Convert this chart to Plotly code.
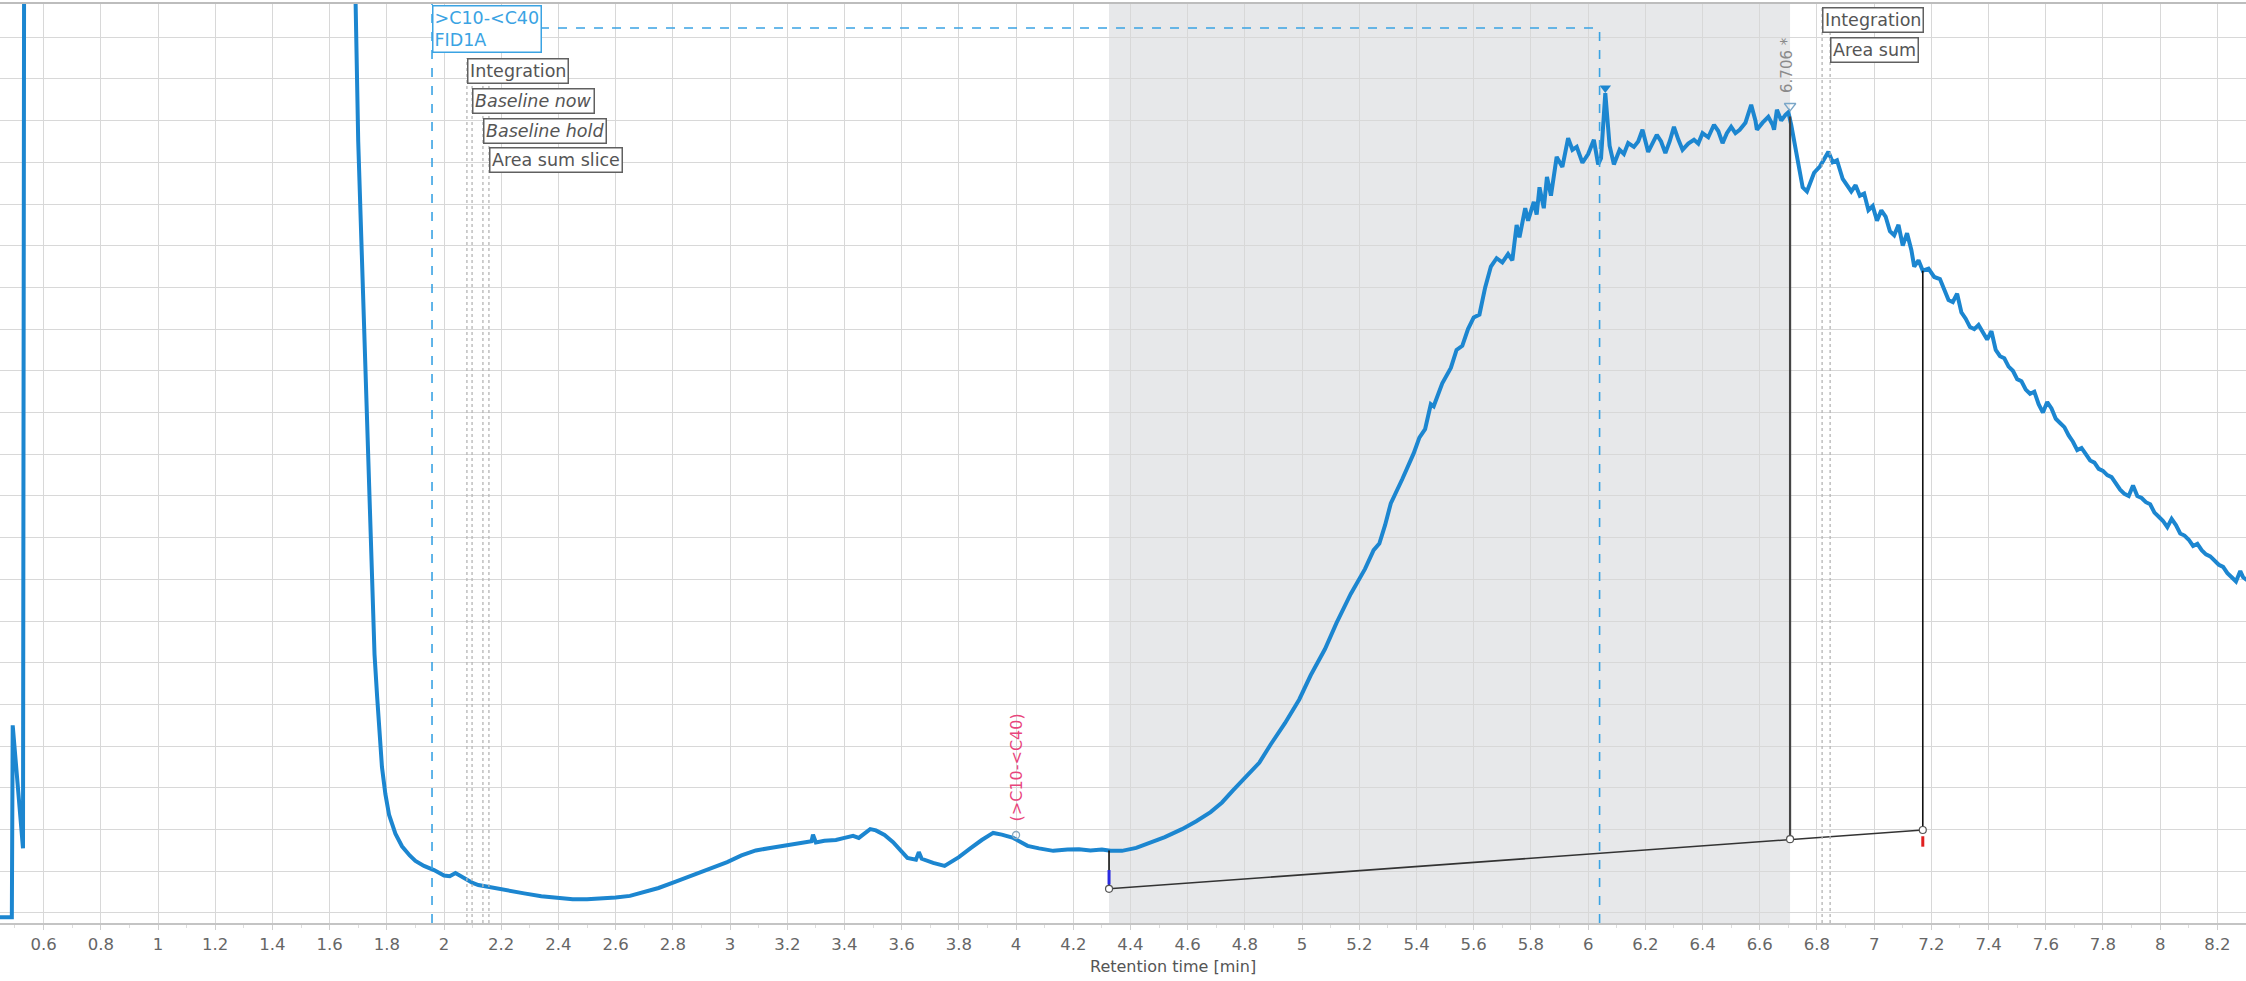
import plotly.graph_objects as go

# ---------------- data ----------------
RT_HEAD = [0.4476, 0.489, 0.492, 0.528, 0.535, 1.0, 1.68, 1.689, 1.70, 1.706, 1.715, 1.724, 1.738, 1.748,
           1.757, 1.766, 1.776, 1.783, 1.795, 1.808, 1.83, 1.853, 1.88, 1.90, 1.93, 1.965, 2.00, 2.02,
           2.04, 2.055, 2.07, 2.10, 2.12, 2.15, 2.18, 2.22, 2.28, 2.34, 2.40, 2.45, 2.50, 2.56, 2.60,
           2.65, 2.70, 2.75, 2.81, 2.87, 2.93, 2.99, 3.04, 3.09, 3.14, 3.18, 3.23, 3.27, 3.285, 3.29,
           3.30, 3.33, 3.37, 3.40, 3.43, 3.45, 3.47, 3.49, 3.51, 3.54, 3.57, 3.60, 3.62, 3.65, 3.66,
           3.67, 3.68, 3.71, 3.75, 3.78, 3.80, 3.84, 3.88, 3.92, 3.95, 3.99, 4.02, 4.04, 4.08, 4.13,
           4.18, 4.22, 4.26, 4.30, 4.33, 4.37, 4.42, 4.47, 4.52, 4.58, 4.63, 4.68, 4.72, 4.76, 4.80,
           4.85, 4.89, 4.94, 4.99, 5.03, 5.08, 5.12, 5.17, 5.22, 5.25, 5.27, 5.29, 5.31, 5.35, 5.39,
           5.41, 5.43, 5.45, 5.46, 5.49, 5.52, 5.54, 5.56, 5.58, 5.60, 5.62, 5.64, 5.66, 5.68, 5.70]
SIG_HEAD = [-0.1, -0.1, 4.5, 1.55, 40.0, 60.0, 40.0, 22.5, 18.5, 17.2, 15.0, 12.7, 9.7, 7.5,
            6.2, 5.2, 4.0, 3.5, 2.85, 2.35, 1.9, 1.6, 1.38, 1.25, 1.13, 1.03, 0.9, 0.88,
            0.96, 0.9, 0.82, 0.72, 0.67, 0.63, 0.58, 0.53, 0.47, 0.40, 0.35, 0.33, 0.33, 0.34, 0.37,
            0.41, 0.50, 0.60, 0.75, 0.91, 1.06, 1.22, 1.38, 1.50, 1.56, 1.61, 1.66, 1.70, 1.72, 1.88,
            1.69, 1.73, 1.75, 1.80, 1.85, 1.80, 1.92, 2.01, 1.98, 1.87, 1.70, 1.48, 1.32, 1.28, 1.46,
            1.30, 1.27, 1.20, 1.13, 1.25, 1.34, 1.55, 1.75, 1.92, 1.88, 1.80, 1.68, 1.61, 1.55, 1.49,
            1.52, 1.53, 1.50, 1.52, 1.49, 1.49, 1.56, 1.68, 1.82, 2.01, 2.20, 2.42, 2.65, 2.95, 3.25,
            3.60, 4.04, 4.55, 5.12, 5.70, 6.33, 6.95, 7.65, 8.25, 8.70, 8.86, 9.30, 9.82, 10.4, 11.02,
            11.4, 11.6, 12.2, 12.15, 12.7, 13.07, 13.5, 13.6, 14.0, 14.28, 14.35, 15.0, 15.5, 15.7, 15.6]

RT_TOP = [5.72, 5.735, 5.75, 5.76, 5.78, 5.79, 5.81, 5.82, 5.83, 5.845, 5.856, 5.87, 5.89, 5.91, 5.93,
          5.945, 5.96, 5.98, 6.00, 6.02, 6.035, 6.045, 6.06, 6.075, 6.09, 6.11, 6.125, 6.14, 6.16,
          6.175, 6.19, 6.21, 6.225, 6.24, 6.255, 6.27, 6.285, 6.30, 6.315, 6.33, 6.35, 6.37, 6.385,
          6.40, 6.42, 6.44, 6.455, 6.47, 6.485, 6.50, 6.515, 6.53, 6.55, 6.57, 6.585, 6.59, 6.61,
          6.63, 6.645, 6.65, 6.66, 6.675, 6.69, 6.70, 6.71, 6.725, 6.74, 6.75, 6.765, 6.78, 6.79,
          6.81, 6.83, 6.84, 6.855, 6.87, 6.89]
SIG_TOP = [15.8, 15.65, 16.5, 16.2, 16.9, 16.6, 17.05, 16.75, 17.4, 16.9, 17.65, 17.2, 18.13, 17.89, 18.58,
           18.3, 18.37, 17.99, 18.2, 18.54, 17.95, 18.1, 19.66, 18.4, 17.95, 18.3, 18.2, 18.46, 18.37,
           18.5, 18.78, 18.25, 18.45, 18.66, 18.5, 18.22, 18.5, 18.85, 18.55, 18.3, 18.45, 18.54, 18.45,
           18.7, 18.6, 18.9, 18.75, 18.46, 18.7, 18.85, 18.7, 18.78, 18.95, 19.38, 19.0, 18.78, 18.95,
           19.09, 18.9, 18.78, 19.26, 19.0, 19.14, 19.2, 18.9, 18.3, 17.8, 17.4, 17.3, 17.6, 17.75,
           17.9, 18.15, 18.25, 18.0, 18.05, 17.6]

RT_TAIL = [6.92, 6.935, 6.95, 6.965, 6.98, 6.995, 7.01, 7.025, 7.04, 7.055, 7.07, 7.085, 7.10, 7.115,
           7.13, 7.14, 7.155, 7.17, 7.19, 7.21, 7.23, 7.245, 7.26, 7.275, 7.29, 7.305, 7.32, 7.335,
           7.35, 7.365, 7.38, 7.395, 7.41, 7.425, 7.44, 7.455, 7.47, 7.485, 7.50, 7.515, 7.53, 7.545,
           7.56, 7.575, 7.59, 7.605, 7.62, 7.635, 7.65, 7.665, 7.68, 7.695, 7.71, 7.725, 7.74, 7.755,
           7.77, 7.785, 7.80, 7.815, 7.83, 7.845, 7.86, 7.875, 7.89, 7.905, 7.92, 7.935, 7.95, 7.965,
           7.98, 7.995, 8.01, 8.025, 8.04, 8.055, 8.07, 8.085, 8.10, 8.115, 8.13, 8.145, 8.16, 8.175,
           8.19, 8.205, 8.22, 8.235, 8.25, 8.265, 8.28, 8.29, 8.30, 8.32]
SIG_TAIL = [17.3, 17.45, 17.2, 17.25, 16.85, 16.95, 16.6, 16.85, 16.7, 16.35, 16.25, 16.5, 16.0, 16.3,
            15.9, 15.5, 15.65, 15.4, 15.45, 15.25, 15.2, 14.95, 14.7, 14.65, 14.85, 14.4, 14.25, 14.05,
            14.0, 14.1, 13.9, 13.75, 13.95, 13.5, 13.35, 13.3, 13.1, 13.0, 12.8, 12.75, 12.55, 12.45,
            12.5, 12.2, 12.0, 12.25, 12.1, 11.85, 11.75, 11.65, 11.45, 11.3, 11.1, 11.15, 11.0, 10.85,
            10.8, 10.65, 10.6, 10.5, 10.45, 10.3, 10.15, 10.05, 10.0, 10.25, 10.0, 9.95, 9.85, 9.8,
            9.6, 9.5, 9.4, 9.25, 9.45, 9.3, 9.1, 9.05, 8.95, 8.8, 8.85, 8.7, 8.6, 8.55,
            8.45, 8.35, 8.3, 8.15, 8.05, 7.95, 8.2, 8.05, 8.0, 7.9]

# integration baseline (start, apex drop, end)
BASE_T = [4.325, 6.706, 7.17]
BASE_Y = [0.58, 1.77, 1.99]
DROP_TOP = [1.50, 19.1, 15.4]

SHADE_RANGE = [4.325, 6.706]
WINDOW_T = [1.958, 6.04]        # >C10-<C40 window (dashed cyan)
EVENT_T_LEFT = [2.080, 2.098, 2.136, 2.157]
EVENT_LABELS_LEFT = ["Integration", "<i>Baseline now</i>", "<i>Baseline hold</i>", "Area sum slice"]
EVENT_T_RIGHT = [6.818, 6.846]
EVENT_LABELS_RIGHT = ["Integration", "Area sum"]

PEAK_RT = 6.706
PEAK_LABEL = "6.706 *"
SPIKE_RT = 6.06
GROUP_RT = 4.0
GROUP_Y = 1.87
GROUP_LABEL = "(&gt;C10-&lt;C40)"
WINDOW_LABEL = "&gt;C10-&lt;C40<br>FID1A"

TICK_VALS = [round(0.6 + 0.2 * i, 1) for i in range(39)]
TICK_TEXT = ["0.6", "0.8", "1", "1.2", "1.4", "1.6", "1.8", "2", "2.2", "2.4", "2.6", "2.8", "3",
             "3.2", "3.4", "3.6", "3.8", "4", "4.2", "4.4", "4.6", "4.8", "5", "5.2", "5.4", "5.6",
             "5.8", "6", "6.2", "6.4", "6.6", "6.8", "7", "7.2", "7.4", "7.6", "7.8", "8", "8.2"]
X_TITLE = "Retention time [min]"

RT = RT_HEAD + RT_TOP + RT_TAIL
SIGNAL = SIG_HEAD + SIG_TOP + SIG_TAIL

# ---------------- styles ----------------
BLUE = "rgb(28,134,208)"
CYAN = "rgb(58,163,227)"
GRID = "#d8d8d8"
FONT = "DejaVu Sans"
LABEL_SIZE = 17.5
Y0, Y1 = -0.24, 21.82

fig = go.Figure()

fig.add_trace(go.Scatter(x=RT, y=SIGNAL, mode="lines",
                         line=dict(color=BLUE, width=4), hoverinfo="skip"))

fig.add_trace(go.Scatter(x=BASE_T, y=BASE_Y, mode="lines",
                         line=dict(color="#333333", width=1.6), hoverinfo="skip"))
for i, (t, yb, yt) in enumerate(zip(BASE_T, BASE_Y, DROP_TOP)):
    fig.add_trace(go.Scatter(x=[t, t], y=[yb, yt], mode="lines",
                             line=dict(color="#444444" if i == 1 else "#111111",
                                       width=2.2 if i == 1 else 1.6), hoverinfo="skip"))
fig.add_trace(go.Scatter(x=[BASE_T[0], BASE_T[0]], y=[BASE_Y[0] + 0.1, BASE_Y[0] + 0.45], mode="lines",
                         line=dict(color="#2a2ae0", width=3), hoverinfo="skip"))
fig.add_trace(go.Scatter(x=[BASE_T[2], BASE_T[2]], y=[BASE_Y[2] - 0.15, BASE_Y[2] - 0.4], mode="lines",
                         line=dict(color="#e02020", width=3), hoverinfo="skip"))
fig.add_trace(go.Scatter(x=BASE_T, y=BASE_Y, mode="markers",
                         marker=dict(symbol="circle", size=7, color="white",
                                     line=dict(color="#555555", width=1.2)), hoverinfo="skip"))

fig.add_trace(go.Scatter(x=[SPIKE_RT], y=[19.78], mode="markers",
                         marker=dict(symbol="triangle-down", size=10, color=BLUE), hoverinfo="skip"))
fig.add_trace(go.Scatter(x=[PEAK_RT], y=[19.35], mode="markers",
                         marker=dict(symbol="triangle-down-open", size=10, color="#7aa6c8",
                                     line=dict(width=1.3)), hoverinfo="skip"))
fig.add_trace(go.Scatter(x=[GROUP_RT], y=[GROUP_Y], mode="markers",
                         marker=dict(symbol="circle-open", size=7, color="#8aa9bf",
                                     line=dict(width=1.3)), hoverinfo="skip"))

shapes = []
shapes.append(dict(type="rect", xref="x", yref="paper", x0=SHADE_RANGE[0], x1=SHADE_RANGE[1],
                   y0=0, y1=1, fillcolor="#e7e8ea", line=dict(width=0), layer="below"))
shapes.append(dict(type="line", xref="x", yref="y", x0=WINDOW_T[0], x1=WINDOW_T[0], y0=Y0, y1=Y1,
                   line=dict(color=CYAN, width=1.6, dash="dash")))
shapes.append(dict(type="line", xref="x", yref="y", x0=WINDOW_T[1], x1=WINDOW_T[1], y0=Y0, y1=21.22,
                   line=dict(color=CYAN, width=1.6, dash="dash")))
shapes.append(dict(type="line", xref="x", yref="y", x0=WINDOW_T[0], x1=WINDOW_T[1], y0=21.22, y1=21.22,
                   line=dict(color=CYAN, width=1.6, dash="dash")))
for t in EVENT_T_LEFT:
    shapes.append(dict(type="line", xref="x", yref="y", x0=t, x1=t, y0=Y0, y1=20.5,
                       line=dict(color="#b5b5b5", width=1.3, dash="dot")))
for t in EVENT_T_RIGHT:
    shapes.append(dict(type="line", xref="x", yref="y", x0=t, x1=t, y0=Y0, y1=21.7,
                       line=dict(color="#b5b5b5", width=1.3, dash="dot")))
shapes.append(dict(type="line", xref="paper", yref="paper", x0=0, x1=1, y0=1, y1=1,
                   line=dict(color="#bdbdbd", width=2)))

ann = []
ann.append(dict(x=WINDOW_T[0], y=21.77, xref="x", yref="y", text=WINDOW_LABEL, showarrow=False,
                xanchor="left", yanchor="top", align="left",
                font=dict(family=FONT, size=LABEL_SIZE, color=CYAN),
                bgcolor="white", bordercolor=CYAN, borderwidth=1.5, borderpad=1))
left_y = [20.5, 19.78, 19.06, 18.37]
for t, lab, yy in zip(EVENT_T_LEFT, EVENT_LABELS_LEFT, left_y):
    ann.append(dict(x=t, y=yy, xref="x", yref="y", text=lab, showarrow=False,
                    xanchor="left", yanchor="top", font=dict(family=FONT, size=LABEL_SIZE, color="#555555"),
                    bgcolor="white", bordercolor="#606060", borderwidth=1.5, borderpad=1.5))
right_y = [21.73, 21.0]
for t, lab, yy in zip(EVENT_T_RIGHT, EVENT_LABELS_RIGHT, right_y):
    ann.append(dict(x=t, y=yy, xref="x", yref="y", text=lab, showarrow=False,
                    xanchor="left", yanchor="top", font=dict(family=FONT, size=LABEL_SIZE, color="#555555"),
                    bgcolor="white", bordercolor="#606060", borderwidth=1.5, borderpad=1.5))
ann.append(dict(x=PEAK_RT - 0.01, y=19.62, xref="x", yref="y", text=PEAK_LABEL, showarrow=False,
                textangle=-90, xanchor="center", yanchor="bottom",
                font=dict(family=FONT, size=15, color="#8a8a8a")))
ann.append(dict(x=GROUP_RT, y=2.15, xref="x", yref="y", text=GROUP_LABEL, showarrow=False,
                textangle=-90, xanchor="center", yanchor="bottom",
                font=dict(family=FONT, size=16, color="#e8457c")))
ann.append(dict(x=1173 / 2246, y=-0.047, xref="paper", yref="paper", text=X_TITLE, showarrow=False,
                xanchor="center", yanchor="middle", font=dict(family=FONT, size=16, color="#555555")))

fig.update_layout(
    width=2246, height=981,
    margin=dict(l=0, r=0, t=3, b=58, pad=0),
    paper_bgcolor="white", plot_bgcolor="white",
    showlegend=False,
    shapes=shapes, annotations=ann,
    xaxis=dict(range=[0.4476, 8.30], tickmode="array", tickvals=TICK_VALS, ticktext=TICK_TEXT,
               showgrid=True, gridcolor=GRID, gridwidth=1, zeroline=False,
               showline=True, linecolor="#c4c4c4", linewidth=2,
               ticks="outside", ticklen=5, tickcolor="#cfcfcf",
               tickfont=dict(family=FONT, size=16.5, color="#666666"),
               minor=dict(dtick=0.1, tick0=0, ticks="outside", ticklen=3, tickcolor="#dddddd", showgrid=False)),
    yaxis=dict(range=[Y0, Y1], dtick=1, tick0=0, showgrid=True, gridcolor=GRID, gridwidth=1,
               zeroline=False, showticklabels=False, showline=False, ticks=""),
)

fig.write_html("out.html", config={"displayModeBar": False},
               post_script="document.body.style.margin='0';document.body.style.overflow='hidden';")
